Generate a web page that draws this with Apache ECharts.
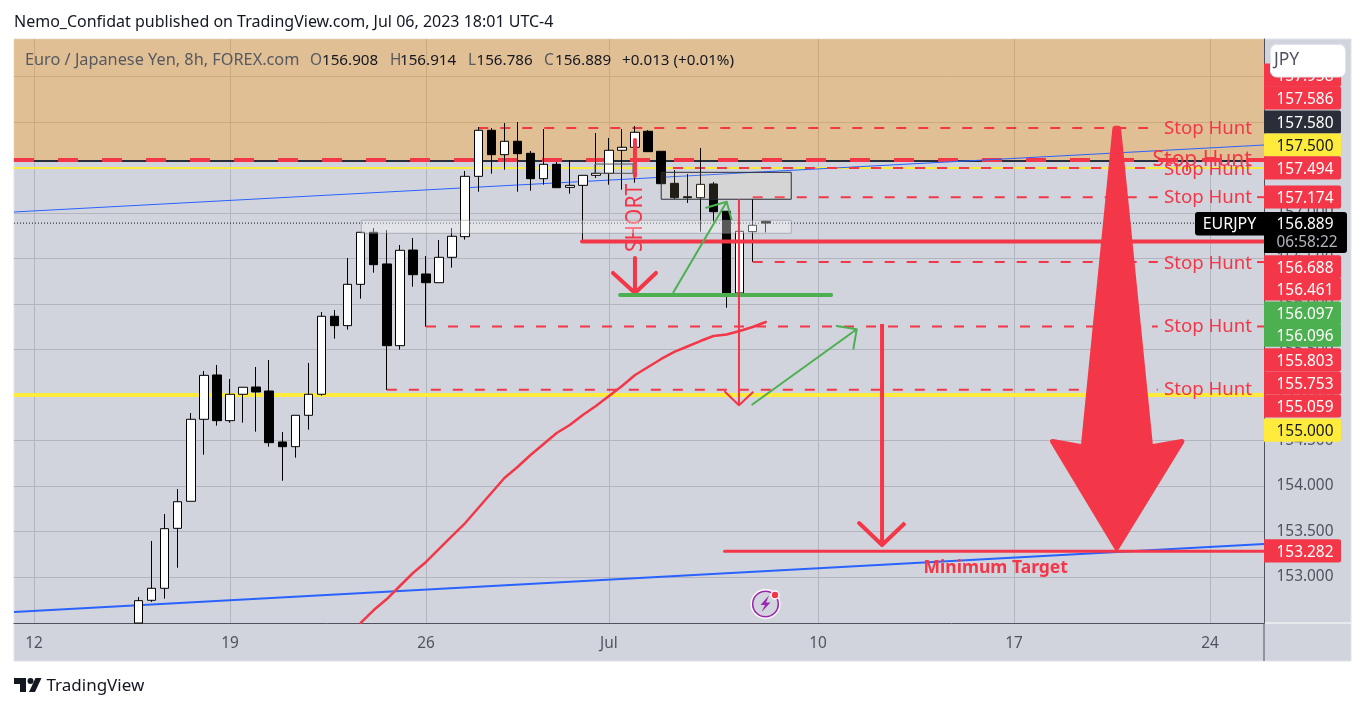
<!DOCTYPE html>
<html><head><meta charset="utf-8">
<style>html,body{margin:0;padding:0;background:#fff;overflow:hidden}#c{width:1366px;height:709px}</style>
<script src="https://cdn.jsdelivr.net/npm/echarts@6/dist/echarts.min.js"></script>
</head><body><div id="c"></div>
<script>
const FONT = '"Noto Sans"';
const RED = '#f43748', GREEN = '#4caf50', YELLOW = '#ffeb3b', DARK = '#2a2e39', BLUE = '#2962ff', AXIS = '#50535e';

// time axis: bar number -> label
const xTickBars = [0, 15, 30, 44, 60, 75, 90];
const xTickLabels = ['12', '19', '26', 'Jul', '10', '17', '24'];
const xMin = -1.531, xMax = 94.13;
// price axis
const yMin = 152.4945, yMax = 158.912;
const yTicks = [153, 153.5, 154, 154.5, 155, 155.5, 156, 156.5, 157, 157.5, 158, 158.5];

// candles: first bar is number 8
const firstBar = 8;
const opens = [152.4945,152.744,152.876,153.535,153.832,154.733,155.220,154.718,155.008,155.088,155.044,154.484,154.432,154.777,155.008,155.865,155.762,156.216,156.788,156.440,155.542,156.593,156.330,156.234,156.513,156.740,157.403,157.909,157.641,157.788,157.656,157.377,157.535,157.282,157.304,157.414,157.436,157.689,157.722,157.898,157.678,157.326,157.179,157.168,157.319,157.019,156.121,156.795,156.908];
const closes = [152.740,152.876,153.531,153.827,154.733,155.216,154.718,155.008,155.085,155.033,154.476,154.432,154.777,155.008,155.865,155.762,156.216,156.788,156.432,155.542,156.590,156.322,156.234,156.513,156.744,157.403,157.909,157.641,157.788,157.652,157.377,157.535,157.278,157.304,157.414,157.436,157.689,157.722,157.887,157.674,157.322,157.168,157.168,157.315,157.014,156.110,156.799,156.865,156.889];
const lows = [152.4945,152.725,152.762,153.102,153.832,154.344,154.663,154.696,154.696,154.597,154.432,154.058,154.311,154.619,154.992,155.619,155.718,156.058,156.344,155.055,155.498,156.190,155.751,156.234,156.399,156.707,157.234,157.432,157.476,157.234,157.245,157.311,157.278,157.212,156.685,157.385,157.311,157.256,157.333,157.674,157.322,157.154,157.110,156.795,156.904,155.959,156.121,156.465,156.786];
const highs = [152.780,153.396,153.692,153.967,154.802,155.264,155.330,155.176,155.085,155.308,155.385,154.593,154.777,155.352,155.912,155.934,156.505,156.788,156.835,156.813,156.648,156.725,156.527,156.703,156.835,157.462,157.945,157.934,157.989,158.000,157.681,157.923,157.560,157.582,157.414,157.879,157.824,157.923,157.956,157.912,157.678,157.473,157.429,157.714,157.341,157.019,156.799,157.154,156.914];

// red moving average, bars 25..56
const emaFirstBar = 25;
const ema = [152.495,152.637,152.758,152.901,153.044,153.165,153.308,153.451,153.593,153.758,153.923,154.088,154.209,154.341,154.462,154.582,154.670,154.780,154.879,154.989,155.099,155.220,155.308,155.396,155.473,155.533,155.593,155.648,155.665,155.703,155.747,155.802];

// price tags on the axis
const tagTexts  = ['157.958','157.586','157.580','157.500','157.494','157.174','156.688','156.461','156.097','156.096','155.803','155.753','155.059','155.000','153.282'];
const tagRows   = [158.516,158.264,158.000,157.747,157.495,157.176,156.407,156.165,155.901,155.659,155.385,155.132,154.879,154.615,153.286];
const tagKinds  = ['r','r','d','y','r','r','r','r','g','g','r','r','r','y','r'];
const lastPrice = 156.889;
const countdown = '06:58:22';

// chart annotations
const stopRows = [[157.945,89.85,18.6],[157.600,89.4,21],[157.495,89.85,18.6],[157.180,89.85,18.6],[156.462,89.85,18.6],[155.769,89.85,18.6],[155.077,89.85,18.6]];
const stopDashes = [
  [[34,157.934],[85.25,157.934]],
  [[48.9,157.494],[85.25,157.494]],
  [[55,157.174],[86,157.174]], [[93.6,157.174],[xMax,157.174]],
  [[55,156.461],[86,156.461]], [[93.6,156.461],[xMax,156.461]],
  [[30,155.753],[86,155.753]], [[93.6,155.753],[xMax,155.753]],
  [[27,155.059],[86,155.059]]
];
const thinBlue  = [[xMin,157.011],[xMax,157.747]];
const thickBlue = [[xMin,152.615],[xMax,153.363]];
const shortCross = [[45.99,157.802],[45.99,157.407]];
const shortArrow = [[45.99,156.505],[45.99,156.121],[44.31,156.341],[45.99,156.121],[47.6,156.341]];
const shortLine  = [[41.94,156.687],[xMax,156.687]];
const greenBase  = [[44.85,156.099],[61.0,156.099]];
const greenUp    = [[48.9,156.121],[53.01,157.124],[51.43,157.058],[53.01,157.124],[53.39,156.923]];
const redDown    = [[53.95,157.151],[53.95,154.887],[52.88,155.036],[53.95,154.887],[55.05,155.036]];
const greenUp2   = [[54.92,154.890],[62.96,155.722],[61.43,155.758],[62.96,155.722],[62.70,155.502]];
const redDown2   = [[64.9,155.780],[64.9,153.352],[63.14,153.593],[64.9,153.352],[66.66,153.593]];
const targetLine = [[52.85,153.282],[xMax,153.282]];
const bigArrow   = [[82.72,157.93],[83.0,157.93],[85.45,154.43],[87.85,154.49],[82.86,153.32],[77.95,154.49],[80.3,154.43]];
const zone       = [[xMin,yMax],[xMax,yMax],[xMax,157.58],[xMin,157.58]];
const lightBox   = [[25.05,156.920],[57.95,156.920],[57.95,156.777],[25.05,156.777]];
const darkBox    = [[48,157.447],[57.95,157.447],[57.95,157.151],[48,157.151]];
const smallBox   = [[42.93,157.538],[45.84,157.538],[45.84,157.436],[42.93,157.436]];

const candleData = opens.map((o,i)=>[firstBar+i,o,closes[i],lows[i],highs[i]]);

function line(name,data,color,width,z,type,cap){
  return {name,type:'line',data,z,showSymbol:false,symbol:'none',silent:true,animation:false,
    lineStyle:{color,width,type:type||'solid',cap:cap||'butt',join:'round'}};
}
function poly(name,pts,style,z){
  return {name,type:'custom',data:pts,z,silent:true,animation:false,encode:{x:0,y:1},
    renderItem(p,api){
      if(p.dataIndex!==0) return null;
      return {type:'polygon',shape:{points:pts.map(q=>api.coord(q))},style};
    }};
}

const series = [
  poly('zone',zone,{fill:'rgba(255,148,2,0.33)'},1),
  line('yellow157',[[xMin,157.495],[xMax,157.495]],YELLOW,2,2),
  line('yellow155',[[xMin,155],[xMax,155]],YELLOW,4,2),
  line('blackLine',[[xMin,157.572],[xMax,157.572]],DARK,2,2),
  line('redDash',[[xMin,157.582],[xMax,157.582]],RED,4,2,[20,24]),
  line('blueThin',thinBlue,BLUE,1,2),
  line('blueThick',thickBlue,BLUE,2,2),
  ...stopDashes.map((d,i)=>line('stop'+i,d,RED,2,3,[10,12])),
  line('last',[[xMin,lastPrice],[88.85,lastPrice]],'#131722',1,3,[1,2]),
  {name:'EURJPY',type:'candlestick',data:candleData,encode:{x:0,y:[1,2,3,4]},z:5,barWidth:9,silent:true,animation:false,
    itemStyle:{color:'#ffffff',color0:'#000000',borderColor:'#000000',borderColor0:'#000000',borderColorDoji:'#000000',borderWidth:1}},
  line('ema',ema.map((v,i)=>[emaFirstBar+i,v]),RED,2.5,7,'solid','round'),
  {name:'short',type:'custom',data:[[45.92,156.945]],z:5.5,silent:true,animation:false,encode:{x:0,y:1},
    renderItem(p,api){const c=api.coord([45.92,156.945]);
      return {type:'text',x:c[0]+1,y:c[1],rotation:Math.PI/2,scaleY:1.15,style:{text:'SHORT',fill:RED,font:'21px '+FONT,align:'center',verticalAlign:'middle'}};}},
  poly('lightBox',lightBox,{fill:'rgba(255,255,255,0.35)',stroke:'rgba(120,123,134,0.45)',lineWidth:1},6),
  poly('darkBox',darkBox,{fill:'rgba(247,227,174,0.13)',stroke:DARK,lineWidth:1},6),
  poly('smallBox',smallBox,{fill:'rgba(0,0,0,0)',stroke:'#555555',lineWidth:1},6),
  line('shortCross',shortCross,RED,4,8,'solid','round'),
  line('shortArrow',shortArrow,RED,4,8,'solid','round'),
  line('shortLine',shortLine,RED,4,8,'solid','round'),
  line('greenBase',greenBase,GREEN,4,8,'solid','round'),
  line('greenUp',greenUp,GREEN,2,8),
  line('redDown',redDown,RED,2,8),
  line('greenUp2',greenUp2,GREEN,2,8),
  line('redDown2',redDown2,RED,4,8),
  line('targetLine',targetLine,RED,3,8,'solid','round'),
  poly('bigArrow',bigArrow,{fill:RED,stroke:RED,lineWidth:5,lineJoin:'round'},9),
  {name:'stopHunt',type:'custom',data:stopRows.map(r=>[r[1],r[0]]),z:10,silent:true,animation:false,encode:{x:0,y:1},
    renderItem(p,api){const r=stopRows[p.dataIndex],c=api.coord([r[1],r[0]]);
      return {type:'text',x:c[0],y:c[1]+1.5,style:{text:'Stop Hunt',fill:RED,font:r[2]+'px '+FONT,align:'center',verticalAlign:'middle'}};}},
  {name:'target',type:'custom',data:[[73.6,153.11]],z:10,silent:true,animation:false,encode:{x:0,y:1},
    renderItem(p,api){const c=api.coord([73.6,153.11]);
      return {type:'text',x:c[0],y:c[1]+1.5,style:{text:'Minimum Target',fill:RED,font:'bold 17.5px '+FONT,align:'center',verticalAlign:'middle'}};}},
  {name:'tags',type:'custom',data:tagRows.map(r=>[xMax,r]),z:20,silent:true,animation:false,encode:{x:0,y:1},
    renderItem(p,api){const i=p.dataIndex,c=api.coord([xMax,tagRows[i]]),k=tagKinds[i];
      const bg={r:RED,d:DARK,y:YELLOW,g:GREEN}[k];
      return {type:'group',x:c[0],y:c[1],children:[
        {type:'rect',shape:{x:0,y:-11.6,width:77,height:23.2,r:[0,2,2,0]},style:{fill:bg}},
        {type:'text',x:41,y:1.5,style:{text:tagTexts[i],fill:k==='y'?'#131722':'#fff',font:'15.4px '+FONT,align:'center',verticalAlign:'middle'}}]};}}
];

const chart = echarts.init(document.getElementById('c'),null,{renderer:'canvas'});
chart.setOption({
  animation:false,backgroundColor:'#ffffff',
  grid:{left:14,right:102,top:39,height:584,containLabel:false},
  xAxis:{type:'value',min:xMin,max:xMax,
    axisLine:{show:true,onZero:false,lineStyle:{color:AXIS,width:1}},
    axisTick:{show:false,customValues:xTickBars},
    axisLabel:{customValues:xTickBars,color:AXIS,fontFamily:FONT,fontSize:15.4,margin:13,
      formatter:v=>xTickLabels[xTickBars.indexOf(v)]},
    splitLine:{show:true,lineStyle:{color:'#b2b5be',width:1}}},
  yAxis:{type:'value',min:yMin,max:yMax,position:'right',
    axisLine:{show:true,onZero:false,lineStyle:{color:AXIS,width:1}},
    axisTick:{show:false,customValues:yTicks},
    axisLabel:{customValues:yTicks,color:AXIS,fontFamily:FONT,fontSize:15.4,margin:41,align:'center',padding:[3,0,0,0],
      formatter:v=>v.toFixed(3)},
    splitLine:{show:true,lineStyle:{color:'#b2b5be',width:1}}},
  series,
  graphic:{elements:[
    {type:'rect',z:-10,shape:{x:14,y:39,width:1337,height:622},style:{fill:'#d1d4dc',stroke:'#e0e3eb',lineWidth:1}},
    {type:'line',z:1,shape:{x1:1264,y1:623,x2:1264,y2:661},style:{stroke:AXIS,lineWidth:1}},
    {type:'line',z:1,shape:{x1:1265,y1:623,x2:1351,y2:623},style:{stroke:'#ffffff',lineWidth:1}},
    {type:'text',z:30,x:14,y:22,style:{text:'Nemo_Confidat published on TradingView.com, Jul 06, 2023 18:01 UTC-4',fill:'#131722',font:'16px '+FONT,verticalAlign:'middle'}},
    {type:'text',z:30,x:25,y:60.5,style:{text:'Euro / Japanese Yen, 8h, FOREX.com',fill:'#565960',font:'16.3px '+FONT,verticalAlign:'middle'}},
    ...[['O',310],['H',390],['L',468],['C',544]].map(a=>({type:'text',z:30,x:a[1],y:60.5,style:{text:a[0],fill:'#565960',font:'15.4px '+FONT,verticalAlign:'middle'}})),
    ...[['156.908',322],['156.914',400],['156.786',476.5],['156.889',555],['+0.013 (+0.01%)',622]].map(a=>({type:'text',z:30,x:a[1],y:60.5,style:{text:a[0],fill:'#131722',font:'15.2px '+FONT,verticalAlign:'middle'}})),
    // JPY button
    {type:'rect',z:40,shape:{x:1270.5,y:44.5,width:75,height:32.5,r:6},style:{fill:'#ffffff',stroke:'#e0e3eb',lineWidth:1}},
    {type:'text',z:41,x:1274,y:60,style:{text:'JPY',fill:AXIS,font:'17.5px '+FONT,verticalAlign:'middle'}},
    // last price label
    {type:'rect',z:35,shape:{x:1195,y:212,width:75,height:23.5,r:[3,0,0,3]},style:{fill:'#000000'}},
    {type:'rect',z:35,shape:{x:1264,y:212,width:83,height:41,r:[0,3,3,0]},style:{fill:'#000000'}},
    {type:'text',z:36,x:1229.5,y:224.5,style:{text:'EURJPY',fill:'#ffffff',font:'16px '+FONT,align:'center',verticalAlign:'middle'}},
    {type:'text',z:36,x:1305,y:224.5,style:{text:'156.889',fill:'#ffffff',font:'15.4px '+FONT,align:'center',verticalAlign:'middle'}},
    {type:'text',z:36,x:1307,y:243,style:{text:countdown,fill:'#b2b5be',font:'15.4px '+FONT,align:'center',verticalAlign:'middle'}},
    // news icon
    {type:'circle',z:12,shape:{cx:765.5,cy:604,r:15},style:{fill:'#ffffff'}},
    {type:'circle',z:13,shape:{cx:765.5,cy:604,r:12.8},style:{fill:'#d1d4dc',stroke:'#9c27b0',lineWidth:1.6}},
    {type:'polygon',z:14,shape:{points:[[769,595.5],[760.5,605],[765,605],[761.5,612],[770.5,602.5],[766,602.5]]},style:{fill:'#9c27b0'}},
    {type:'circle',z:15,shape:{cx:775,cy:595,r:4},style:{fill:RED,stroke:'#ffffff',lineWidth:1.5}},
    // TradingView logo
    {type:'polygon',z:30,shape:{points:[[14,678],[26,678],[26,692],[20,692],[20,684],[14,684]]},style:{fill:'#131722'}},
    {type:'circle',z:30,shape:{cx:30.5,cy:681,r:3},style:{fill:'#131722'}},
    {type:'polygon',z:30,shape:{points:[[35.5,678],[41.5,678],[35,692],[29,692]]},style:{fill:'#131722'}},
    {type:'text',z:30,x:46.5,y:686.5,style:{text:'TradingView',fill:'#131722',font:'17px '+FONT,verticalAlign:'middle'}}
  ]}
});
</script>
</body></html>
